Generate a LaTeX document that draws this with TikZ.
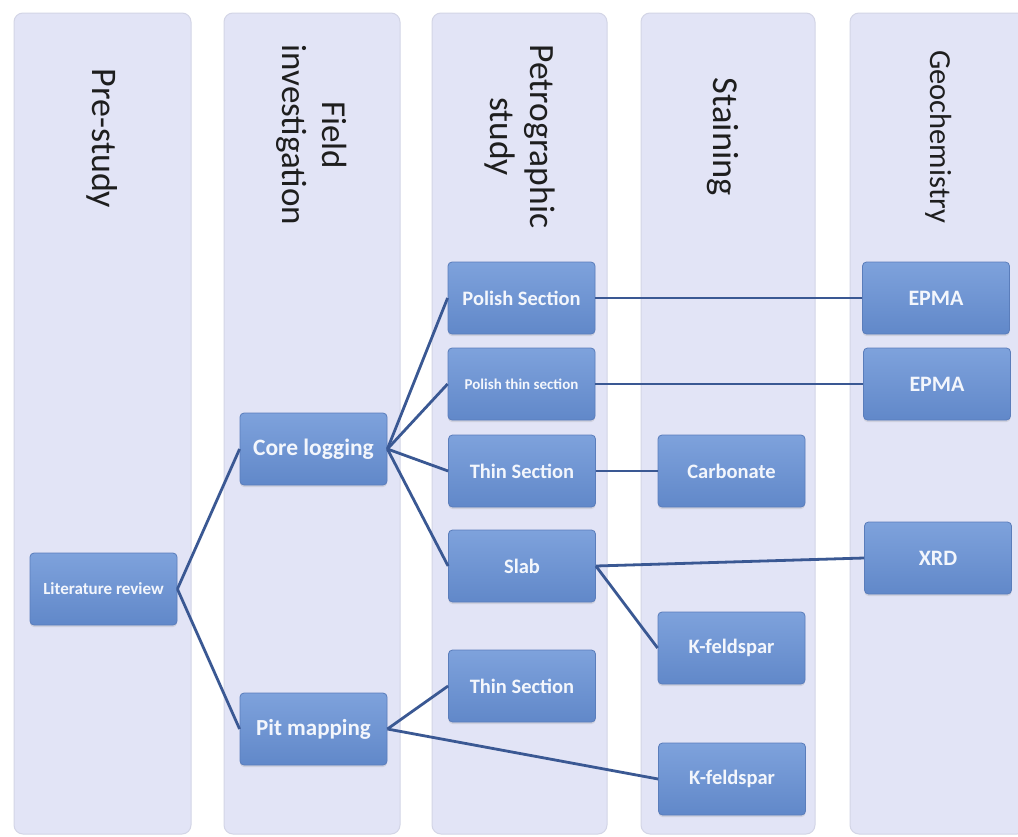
\documentclass[tikz,border=0pt]{standalone}
\usepackage{fontspec}
\setmainfont{Carlito}
\usetikzlibrary{shadows}
\definecolor{colfill}{HTML}{E2E4F6}
\definecolor{coldraw}{HTML}{D3D5E6}
\definecolor{boxtop}{HTML}{7EA2DC}
\definecolor{boxbot}{HTML}{6188C9}
\definecolor{boxdraw}{HTML}{5A7DBB}
\definecolor{linec}{HTML}{3A5893}
\definecolor{titlec}{HTML}{1E1E1E}
\definecolor{boxtext}{HTML}{F3F6FC}
\begin{document}
\begin{tikzpicture}[x=1pt,y=-1pt,
  column/.style={draw=coldraw,line width=1pt,fill=colfill,rounded corners=9pt},
  title/.style={rotate=-90,anchor=base,text=titlec,inner sep=0pt},
  box/.style={rounded corners=4pt,draw=boxdraw,line width=0.8pt,top color=boxtop,bottom color=boxbot,
    drop shadow={shadow xshift=0pt,shadow yshift=-2pt,opacity=0.2},
    minimum width=147pt,minimum height=72pt,inner sep=0pt,text=boxtext,font=\bfseries\fontsize{20.5}{24}\selectfont},
  conn/.style={draw=linec,line width=2.8pt}]
\useasboundingbox (0,0) rectangle (1018,836);
\fill[white] (0,0) rectangle (1018,836);
% columns
\begin{scope}
\clip (0,0) rectangle (1018,836);
\draw[column] (14,13) rectangle (191,834);
\draw[column] (224,13) rectangle (400,834);
\draw[column] (432,13) rectangle (607,834);
\draw[column] (641,13) rectangle (815,834);
\draw[column] (850,13) rectangle (1026,834);
\end{scope}
% titles
\node[title,font=\fontsize{36}{40}\selectfont] (t1) at (92,138.5) {Pre-study};
\node[title,font=\fontsize{35}{40}\selectfont] (t2) at (282,135) {\begin{tabular}[b]{@{}c@{}}Field\\investigation\end{tabular}};
\node[title,font=\fontsize{35.5}{40}\selectfont] (t3) at (490,136.5) {\begin{tabular}[b]{@{}c@{}}Petrographic\\study\end{tabular}};
\node[title,font=\fontsize{36.5}{40}\selectfont] (t4) at (713,137) {Staining};
\node[title,font=\fontsize{30.6}{36}\selectfont] (t5) at (930,136.5) {Geochemistry};
% boxes
\node[box,font=\bfseries\fontsize{17}{20}\selectfont] (lit) at (103.5,589) {Literature review};
\node[box,font=\bfseries\fontsize{23.5}{28}\selectfont] (core) at (313.5,449) {Core logging};
\node[box,font=\bfseries\fontsize{23}{28}\selectfont] (pit) at (313.5,729) {Pit mapping};
\node[box] (ps) at (521.5,298) {Polish Section};
\node[box,font=\bfseries\fontsize{15}{18}\selectfont] (pts) at (521.5,384) {Polish thin section};
\node[box] (ts1) at (522,471) {Thin Section};
\node[box] (slab) at (522,566) {Slab};
\node[box] (ts2) at (522,686) {Thin Section};
\node[box] (carb) at (731.5,471) {Carbonate};
\node[box] (kf1) at (731.5,648) {K-feldspar};
\node[box] (kf2) at (732,779) {K-feldspar};
\node[box,font=\bfseries\fontsize{22}{26}\selectfont] (epma1) at (936,298) {EPMA};
\node[box,font=\bfseries\fontsize{22}{26}\selectfont] (epma2) at (937,384) {EPMA};
\node[box,font=\bfseries\fontsize{22}{26}\selectfont] (xrd) at (938,558) {XRD};
% connectors
\draw[conn] (lit.east) -- (core.west);
\draw[conn] (lit.east) -- (pit.west);
\draw[conn] (core.east) -- (ps.west);
\draw[conn] (core.east) -- (pts.west);
\draw[conn] (core.east) -- (ts1.west);
\draw[conn] (core.east) -- (slab.west);
\draw[conn] (pit.east) -- (ts2.west);
\draw[conn] (pit.east) -- (kf2.west);
\draw[conn] (ps.east) -- (epma1.west);
\draw[conn] (pts.east) -- (epma2.west);
\draw[conn] (ts1.east) -- (carb.west);
\draw[conn] (slab.east) -- (xrd.west);
\draw[conn] (slab.east) -- (kf1.west);
\end{tikzpicture}
\end{document}
